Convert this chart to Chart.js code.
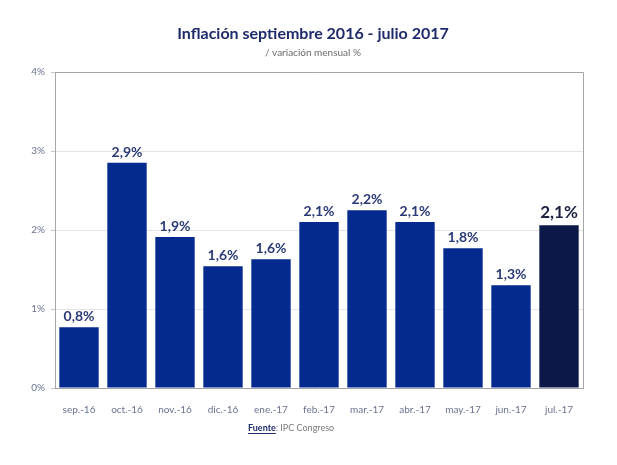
<!DOCTYPE html>
<html>
<head>
<meta charset="utf-8">
<script src="https://cdn.jsdelivr.net/npm/chart.js@4"></script>
<style>
  html, body { margin: 0; padding: 0; background: #fff; }
  #wrap { width: 617px; height: 465px; }
</style>
</head>
<body>
<div id="wrap"><canvas id="chart" width="617" height="465"></canvas></div>
<script>
const months = ['sep.-16', 'oct.-16', 'nov.-16', 'dic.-16', 'ene.-17', 'feb.-17',
  'mar.-17', 'abr.-17', 'may.-17', 'jun.-17', 'jul.-17'];
const inflation = [0.77, 2.85, 1.91, 1.54, 1.63, 2.1, 2.25, 2.1, 1.77, 1.3, 2.06];
const valueLabels = ['0,8%', '2,9%', '1,9%', '1,6%', '1,6%', '2,1%', '2,2%', '2,1%', '1,8%', '1,3%', '2,1%'];
const yTicks = ['0%', '1%', '2%', '3%', '4%'];

const barColors = months.map((m, i) => i === months.length - 1 ? '#0b1848' : '#04298f');
const fontFamily = 'Lato, "Open Sans", sans-serif';

// title, subtitle, value labels, footer and plot frame
const decorations = {
  id: 'decorations',
  afterDatasetsDraw(chart) {
    const ctx = chart.ctx;
    const area = chart.chartArea;
    ctx.save();

    // frame top + right
    ctx.strokeStyle = '#a6a6a6';
    ctx.lineWidth = 1;
    ctx.beginPath();
    ctx.moveTo(area.left, area.top + 0.5);
    ctx.lineTo(area.right + 0.5, area.top + 0.5);
    ctx.lineTo(area.right + 0.5, area.bottom);
    ctx.stroke();

    ctx.textAlign = 'center';
    ctx.textBaseline = 'alphabetic';
    ctx.fillStyle = '#1f2a6b';
    ctx.font = 'bold 16px ' + fontFamily;
    ctx.fillText('Inflación septiembre 2016 - julio 2017', 313, 39);
    ctx.fillStyle = '#6b6b6b';
    ctx.font = '10px ' + fontFamily;
    ctx.fillText('/ variación mensual %', 313, 56);

    const meta = chart.getDatasetMeta(0);
    meta.data.forEach((bar, i) => {
      const last = i === meta.data.length - 1;
      ctx.fillStyle = last ? '#1a2040' : '#2b3a77';
      ctx.font = (last ? 'bold 17px ' : 'bold 14px ') + fontFamily;
      ctx.fillText(valueLabels[i], bar.x, bar.y - (last ? 7 : 6));
    });

    // footer
    ctx.textAlign = 'left';
    ctx.font = 'bold 9px ' + fontFamily;
    ctx.fillStyle = '#1f2a6b';
    const f = 'Fuente';
    const fx = 248, fy = 431;
    ctx.fillText(f, fx, fy);
    const fw = ctx.measureText(f).width;
    ctx.fillRect(fx, fy + 2, fw, 1);
    ctx.font = '9px ' + fontFamily;
    ctx.fillStyle = '#7a7a7a';
    ctx.fillText(': IPC Congreso', fx + fw, fy);
    ctx.restore();
  }
};

new Chart(document.getElementById('chart'), {
  type: 'bar',
  data: {
    labels: months,
    datasets: [{
      label: 'variación mensual %',
      data: inflation,
      backgroundColor: barColors,
      borderWidth: 0,
      barPercentage: 0.82,
      categoryPercentage: 1
    }]
  },
  options: {
    responsive: false,
    animation: false,
    layout: { padding: { top: 72, right: 34, bottom: 0, left: 0 } },
    plugins: {
      legend: { display: false },
      tooltip: { enabled: false }
    },
    scales: {
      x: {
        grid: { display: false },
        border: { color: '#a6a6a6' },
        ticks: { color: '#6a7390', font: { family: fontFamily, size: 10 }, padding: 8 },
        afterFit(scale) { scale.height = 77; }
      },
      y: {
        min: 0,
        max: 4,
        grid: { color: '#e4e4e4', tickLength: 4, tickColor: '#c8c8c8' },
        border: { color: '#a6a6a6' },
        ticks: {
          stepSize: 1,
          color: '#6a7390',
          font: { family: fontFamily, size: 10 },
          padding: 6,
          callback: (v) => yTicks[v]
        },
        afterFit(scale) { scale.width = 55; }
      }
    }
  },
  plugins: [decorations]
});
</script>
</body>
</html>
